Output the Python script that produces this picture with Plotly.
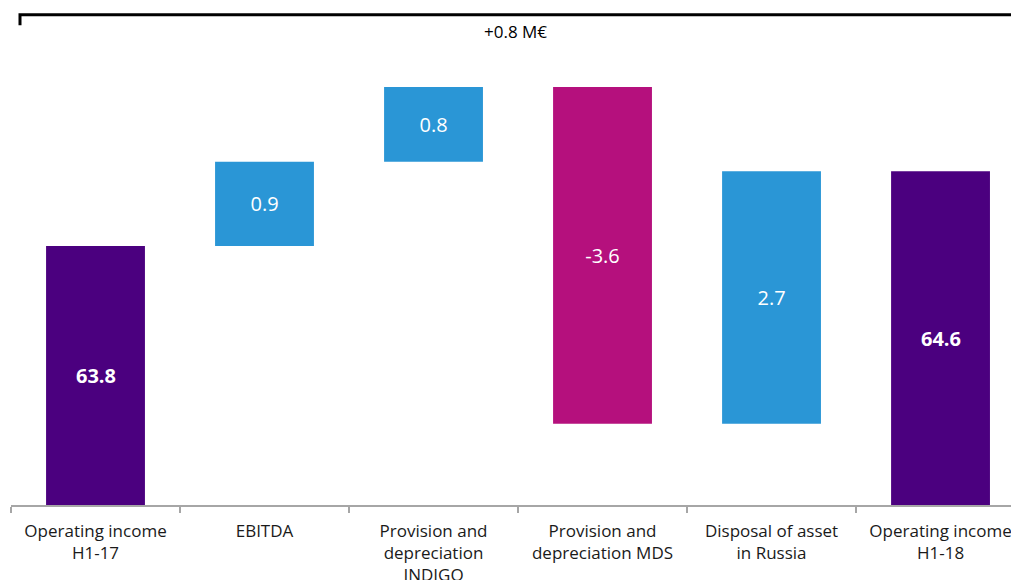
import plotly.graph_objects as go

categories = ["Operating income<br>H1-17", "EBITDA", "Provision and<br>depreciation<br>INDIGO",
              "Provision and<br>depreciation MDS", "Disposal of asset<br>in Russia", "Operating income<br>H1-18"]
values = [63.8, 0.9, 0.8, -3.6, 2.7, 64.6]
measures = ["absolute", "relative", "relative", "relative", "relative", "total"]
labels = ["63.8", "0.9", "0.8", "-3.6", "2.7", "64.6"]

Y_MIN, Y_MAX = 61.03, 66.43
change = values[-1] - values[0]

# labels of the absolute/total bars are shown as annotations centred on their visible part
text_pos = ["none" if m in ("absolute", "total") else "inside" for m in measures]

fig = go.Figure(go.Waterfall(
    x=categories, y=values, measure=measures,
    text=labels, textposition=text_pos, insidetextanchor="middle",
    textfont=dict(color="white", size=20, family="Open Sans"),
    increasing=dict(marker=dict(color="#2A96D6")),
    decreasing=dict(marker=dict(color="#B5107D")),
    totals=dict(marker=dict(color="#4B007F")),
    connector=dict(visible=False),
    width=0.585,
    hoverinfo="skip",
))

for cat, val, lab, m in zip(categories, values, labels, measures):
    if m in ("absolute", "total"):
        fig.add_annotation(x=cat, y=(Y_MIN + val) / 2, xref="x", yref="y",
                           text=f"<b>{lab}</b>", showarrow=False,
                           font=dict(size=20, color="white", family="Open Sans"))

fig.update_layout(
    width=1011, height=580,
    margin=dict(l=11, r=0, t=0, b=74.5),
    plot_bgcolor="white", paper_bgcolor="white",
    showlegend=False,
    font=dict(family="Open Sans", size=17, color="#1a1a1a"),
    xaxis=dict(range=[-0.5, 5.417], showline=True, linecolor="#A6A6A6", linewidth=1.5,
               ticks="outside", tickson="boundaries", ticklen=6, tickcolor="#A6A6A6",
               tickwidth=1.5, showgrid=False, tickfont=dict(size=17),
               ticklabelstandoff=10, automargin=False),
    yaxis=dict(range=[Y_MIN, Y_MAX], visible=False, showgrid=False),
)

# bracket
fig.add_shape(type="path", xref="paper", yref="paper",
              path="M 0.009 0.950 L 0.009 0.971 L 1.02 0.971",
              line=dict(color="black", width=3))
fig.add_annotation(x=0.504, y=0.937, xref="paper", yref="paper",
                   text=f"+{change:.1f} M€", showarrow=False,
                   font=dict(size=17, color="black"), yanchor="middle")

fig.write_html("out.html")
